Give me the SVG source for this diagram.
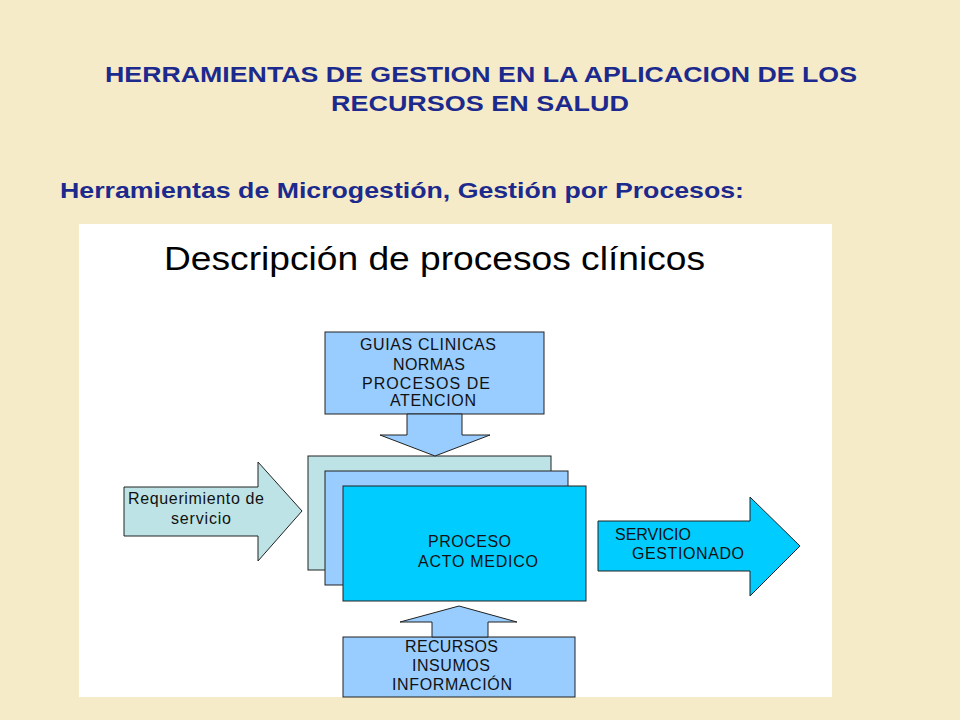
<svg xmlns="http://www.w3.org/2000/svg" width="960" height="720" viewBox="0 0 960 720">
<style>
.t{font-family:"Liberation Sans",Arial,sans-serif;font-weight:bold;fill:#1c2a8e}
.s{font-family:"Liberation Sans",Arial,sans-serif;font-size:16px;fill:#111}
.sh{stroke:#222;stroke-width:1}
</style>
<rect width="960" height="720" fill="#f6ebc8"/>
<text class="t" x="105" y="82" font-size="22" textLength="752" lengthAdjust="spacingAndGlyphs">HERRAMIENTAS DE GESTION EN LA APLICACION DE LOS</text>
<text class="t" x="331" y="111" font-size="22" textLength="298" lengthAdjust="spacingAndGlyphs">RECURSOS EN SALUD</text>
<text class="t" x="60" y="198" font-size="22" textLength="684" lengthAdjust="spacingAndGlyphs">Herramientas de Microgestión, Gestión por Procesos:</text>
<rect x="79" y="224" width="753" height="473" fill="#fff"/>
<text x="164" y="270" font-family="Liberation Sans,Arial,sans-serif" font-size="34" fill="#000" textLength="541" lengthAdjust="spacingAndGlyphs">Descripción de procesos clínicos</text>
<g id="guias">
<rect class="sh" x="325" y="332" width="219" height="82" fill="#99ccff"/>
<text class="s" lengthAdjust="spacingAndGlyphs"><tspan x="360" y="350" textLength="136">GUIAS CLINICAS</tspan><tspan x="393" y="370" textLength="72">NORMAS</tspan><tspan x="362" y="389" textLength="128">PROCESOS DE</tspan><tspan x="390" y="406" textLength="86">ATENCION</tspan></text>
</g>
<g id="proceso">
<rect class="sh" x="308" y="456" width="243" height="114" fill="#bde3e6"/>
<rect class="sh" x="325" y="471" width="243" height="114" fill="#99ccff"/>
<rect class="sh" x="343" y="486" width="243" height="115" fill="#00ccff"/>
<text class="s"><tspan x="428" y="547" textLength="83">PROCESO</tspan><tspan x="418" y="567" textLength="120">ACTO MEDICO</tspan></text>
</g>
<g id="recursos">
<rect class="sh" x="343" y="637" width="232" height="60" fill="#99ccff"/>
<text class="s"><tspan x="405" y="652" textLength="93">RECURSOS</tspan><tspan x="412" y="671" textLength="78">INSUMOS</tspan><tspan x="392" y="690" textLength="120">INFORMACIÓN</tspan></text>
</g>
<g id="connectors">
<polygon class="sh" points="407,414 462,414 462,435 490,435 435,456 380,435 407,435" fill="#99ccff"/>
<polygon class="sh" points="432,637 488,637 488,622 517,622 459,606 400,622 432,622" fill="#99ccff"/>
</g>
<g id="requerimiento">
<polygon class="sh" points="124,487 258,487 258,462 302,511 258,561 258,536 124,536" fill="#bde3e6"/>
<text class="s"><tspan x="128" y="504" textLength="136">Requerimiento de</tspan><tspan x="171" y="524" textLength="60">servicio</tspan></text>
</g>
<g id="servicio">
<polygon class="sh" points="598,521 750,521 750,497 800,546 750,596 750,571 598,571" fill="#00ccff"/>
<text class="s"><tspan x="615" y="540" textLength="76">SERVICIO</tspan><tspan x="632" y="559" textLength="112">GESTIONADO</tspan></text>
</g>
</svg>
